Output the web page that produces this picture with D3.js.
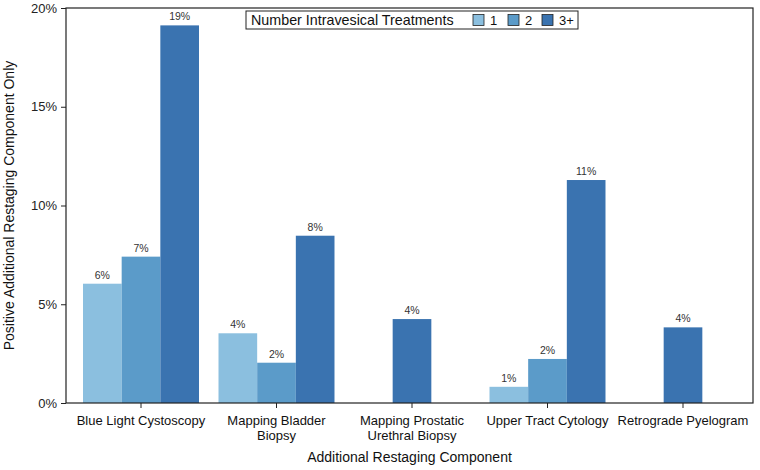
<!DOCTYPE html>
<html>
<head>
<meta charset="utf-8">
<script src="https://cdn.jsdelivr.net/npm/d3@7"></script>
<style>
  body { margin: 0; background: #fff; }
  text { font-family: "Liberation Sans", Arial, sans-serif; }
</style>
</head>
<body>
<div id="chart"></div>
<script>
// data
const categories = [
  ["Blue Light Cystoscopy"],
  ["Mapping Bladder", "Biopsy"],
  ["Mapping Prostatic", "Urethral Biopsy"],
  ["Upper Tract Cytology"],
  ["Retrograde Pyelogram"]
]
const seriesNames = ["1", "2", "3+"]
// percent values per series, null = not shown
const values1 = [6.04, 3.53, null, 0.82, null]
const values2 = [7.41, 2.04, null, 2.23, null]
const values3 = [19.12, 8.47, 4.25, 11.29, 3.83]
const yTicks = [0, 5, 10, 15, 20]
const colors = ["#8bbfdf", "#5b9bc9", "#3a73b0"]

const W = 760, H = 470
const MARGIN = {TOP: 8, BOTTOM: 67, LEFT: 66, RIGHT: 7}
const WIDTH = W - MARGIN.LEFT - MARGIN.RIGHT
const HEIGHT = H - MARGIN.TOP - MARGIN.BOTTOM

const svg = d3.select("#chart").append("svg")
  .attr("width", W).attr("height", H)
const g = svg.append("g")
  .attr("transform", `translate(${MARGIN.LEFT}, ${MARGIN.TOP})`)

const x = d3.scaleBand()
  .domain(d3.range(categories.length))
  .range([7.25, 684.75])
  .paddingInner(0.144)
  .paddingOuter(0.072)

const y = d3.scaleLinear().domain([0, 20]).range([HEIGHT, 0])

const allSeries = [values1, values2, values3]

// build rows: only present series, centred in the group
const rows = []
categories.forEach((c, i) => {
  const present = seriesNames.map((s, k) => k).filter(k => allSeries[k][i] != null)
  const bw = x.bandwidth() / 3
  const offset = (x.bandwidth() - bw * present.length) / 2
  present.forEach((k, j) => {
    rows.push({cat: i, k: k, v: allSeries[k][i], x0: x(i) + offset + j * bw, w: bw})
  })
})

// bars
g.selectAll("rect.bar").data(rows).enter().append("rect")
  .attr("class", "bar")
  .attr("x", d => d.x0)
  .attr("width", d => d.w)
  .attr("y", d => y(d.v))
  .attr("height", d => y(0) - y(d.v))
  .attr("fill", d => colors[d.k])

// value labels
g.selectAll("text.val").data(rows).enter().append("text")
  .attr("class", "val")
  .attr("x", d => d.x0 + d.w / 2)
  .attr("y", d => y(d.v) - 5)
  .attr("text-anchor", "middle")
  .attr("font-size", 10.5)
  .attr("fill", "#333")
  .text(d => Math.round(d.v) + "%")

// axes
const yAxis = g.append("g")
  .call(d3.axisLeft(y).tickValues(yTicks).tickFormat(d => d + "%").tickSize(5).tickPadding(4))
yAxis.select(".domain").remove()
yAxis.selectAll("text").attr("font-size", 13).attr("fill", "#222").style("font-family", "Liberation Sans, Arial, sans-serif")
yAxis.selectAll("line").attr("stroke", "#222")

const xAxis = g.append("g")
  .attr("transform", `translate(0, ${HEIGHT})`)
  .call(d3.axisBottom(x).tickSize(5).tickFormat(""))
xAxis.select(".domain").remove()
xAxis.selectAll("line").attr("stroke", "#222")
xAxis.selectAll(".tick").each(function(i) {
  const t = d3.select(this).append("text")
    .attr("fill", "#111")
    .attr("font-size", 13)
    .attr("text-anchor", "middle")
  categories[i].forEach((line, j) => {
    t.append("tspan").attr("x", 0).attr("y", 22 + j * 15).text(line)
  })
})

// frame
g.append("rect")
  .attr("width", WIDTH).attr("height", HEIGHT)
  .attr("fill", "none").attr("stroke", "#222").attr("stroke-width", 1.2)

// axis titles
g.append("text")
  .attr("x", WIDTH / 2)
  .attr("y", HEIGHT + 59)
  .attr("text-anchor", "middle")
  .attr("font-size", 14)
  .attr("fill", "#111")
  .text("Additional Restaging Component")

g.append("text")
  .attr("transform", "rotate(-90)")
  .attr("x", -HEIGHT / 2)
  .attr("y", -52)
  .attr("text-anchor", "middle")
  .attr("font-size", 14)
  .attr("fill", "#111")
  .text("Positive Additional Restaging Component Only")

// legend
const legend = svg.append("g").attr("transform", "translate(246, 11)")
legend.append("rect")
  .attr("width", 332).attr("height", 18)
  .attr("fill", "#fff").attr("stroke", "#222").attr("stroke-width", 1)
legend.append("text")
  .attr("x", 5).attr("y", 14)
  .attr("font-size", 14.3).attr("fill", "#111")
  .text("Number Intravesical Treatments")
const legX = [227, 262, 296]
seriesNames.forEach((s, k) => {
  legend.append("rect")
    .attr("x", legX[k]).attr("y", 3.5)
    .attr("width", 11).attr("height", 11)
    .attr("fill", colors[k]).attr("stroke", "#222").attr("stroke-width", 0.8)
  legend.append("text")
    .attr("x", legX[k] + 17).attr("y", 14)
    .attr("font-size", 13).attr("fill", "#111")
    .text(s)
})
</script>
</body>
</html>
